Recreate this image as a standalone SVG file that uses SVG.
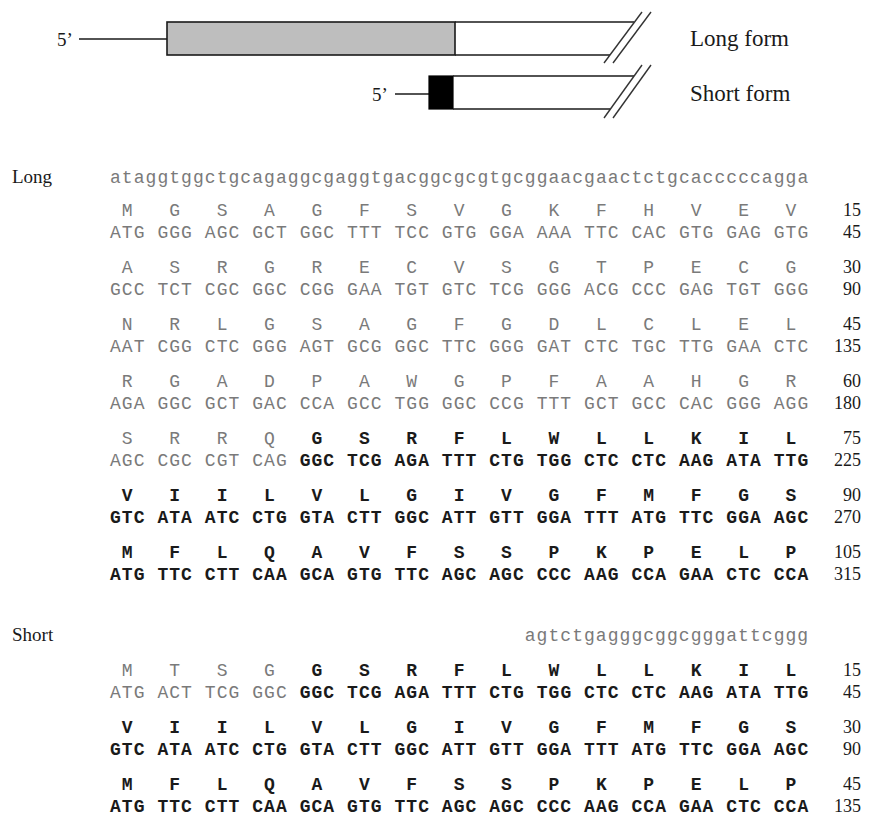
<svg xmlns="http://www.w3.org/2000/svg" width="878" height="816" viewBox="0 0 878 816">
<style>
.ser{font-family:"Liberation Serif","Times New Roman",serif;fill:#1a1a1a}
.lab{font-size:19px}
.big{font-size:23px}
.num{font-size:18px;text-anchor:end}
.mono{font-family:"Liberation Mono","Courier New",monospace;font-size:18px;letter-spacing:1.05px}
.g{fill:#7a7a7a}
.b{fill:#1a1a1a;font-weight:bold}
.ln{stroke:#1a1a1a;stroke-width:1.6;fill:none}
.sl{stroke:#333;stroke-width:1.4;fill:none}
</style>
<rect width="878" height="816" fill="#fff"/>

<g id="long-form">
  <text class="ser lab" x="57" y="46">5’</text>
  <line class="ln" x1="79" y1="39" x2="167" y2="39" stroke-width="2.2"/>
  <rect x="167" y="22" width="288" height="33" fill="#bebebe" stroke="#1a1a1a" stroke-width="1.6"/>
  <line class="ln" x1="455" y1="22" x2="634" y2="22"/>
  <line class="ln" x1="455" y1="55" x2="610" y2="55"/>
  <line class="sl" x1="604" y1="63" x2="642" y2="12"/>
  <line class="sl" x1="613" y1="63" x2="651" y2="12"/>
  <text class="ser big" x="690" y="46">Long form</text>
</g>

<g id="short-form">
  <text class="ser lab" x="372" y="101">5’</text>
  <line class="ln" x1="395" y1="94" x2="429" y2="94" stroke-width="2.2"/>
  <rect x="429" y="76" width="24" height="33" fill="#000" stroke="#000" stroke-width="1.2"/>
  <line class="ln" x1="453" y1="76" x2="634" y2="76"/>
  <line class="ln" x1="453" y1="109" x2="610" y2="109"/>
  <line class="sl" x1="604" y1="118" x2="642" y2="65"/>
  <line class="sl" x1="613" y1="118" x2="651" y2="65"/>
  <text class="ser big" x="690" y="101">Short form</text>
</g>

<g id="long-sequence">
  <text class="ser lab" x="12" y="183">Long</text>
  <text class="mono g" x="110" y="183">ataggtggctgcagaggcgaggtgacggcgcgtgcggaacgaactctgcacccccagga</text>

  <text class="mono g" x="110" y="216" xml:space="preserve"> M   G   S   A   G   F   S   V   G   K   F   H   V   E   V</text>
  <text class="mono g" x="110" y="238">ATG GGG AGC GCT GGC TTT TCC GTG GGA AAA TTC CAC GTG GAG GTG</text>
  <text class="ser num" x="861" y="216">15</text>
  <text class="ser num" x="861" y="238">45</text>

  <text class="mono g" x="110" y="273" xml:space="preserve"> A   S   R   G   R   E   C   V   S   G   T   P   E   C   G</text>
  <text class="mono g" x="110" y="295">GCC TCT CGC GGC CGG GAA TGT GTC TCG GGG ACG CCC GAG TGT GGG</text>
  <text class="ser num" x="861" y="273">30</text>
  <text class="ser num" x="861" y="295">90</text>

  <text class="mono g" x="110" y="330" xml:space="preserve"> N   R   L   G   S   A   G   F   G   D   L   C   L   E   L</text>
  <text class="mono g" x="110" y="352">AAT CGG CTC GGG AGT GCG GGC TTC GGG GAT CTC TGC TTG GAA CTC</text>
  <text class="ser num" x="861" y="330">45</text>
  <text class="ser num" x="861" y="352">135</text>

  <text class="mono g" x="110" y="387" xml:space="preserve"> R   G   A   D   P   A   W   G   P   F   A   A   H   G   R</text>
  <text class="mono g" x="110" y="409">AGA GGC GCT GAC CCA GCC TGG GGC CCG TTT GCT GCC CAC GGG AGG</text>
  <text class="ser num" x="861" y="387">60</text>
  <text class="ser num" x="861" y="409">180</text>

  <text class="mono" x="110" y="444" xml:space="preserve"><tspan class="g"> S   R   R   Q   </tspan><tspan class="b">G   S   R   F   L   W   L   L   K   I   L</tspan></text>
  <text class="mono" x="110" y="466" xml:space="preserve"><tspan class="g">AGC CGC CGT CAG </tspan><tspan class="b">GGC TCG AGA TTT CTG TGG CTC CTC AAG ATA TTG</tspan></text>
  <text class="ser num" x="861" y="444">75</text>
  <text class="ser num" x="861" y="466">225</text>

  <text class="mono b" x="110" y="501" xml:space="preserve"> V   I   I   L   V   L   G   I   V   G   F   M   F   G   S</text>
  <text class="mono b" x="110" y="523">GTC ATA ATC CTG GTA CTT GGC ATT GTT GGA TTT ATG TTC GGA AGC</text>
  <text class="ser num" x="861" y="501">90</text>
  <text class="ser num" x="861" y="523">270</text>

  <text class="mono b" x="110" y="558" xml:space="preserve"> M   F   L   Q   A   V   F   S   S   P   K   P   E   L   P</text>
  <text class="mono b" x="110" y="580">ATG TTC CTT CAA GCA GTG TTC AGC AGC CCC AAG CCA GAA CTC CCA</text>
  <text class="ser num" x="861" y="558">105</text>
  <text class="ser num" x="861" y="580">315</text>
</g>

<g id="short-sequence">
  <text class="ser lab" x="12" y="641">Short</text>
  <text class="mono g" x="524.75" y="641">agtctgagggcggcgggattcggg</text>

  <text class="mono" x="110" y="676" xml:space="preserve"><tspan class="g"> M   T   S   G   </tspan><tspan class="b">G   S   R   F   L   W   L   L   K   I   L</tspan></text>
  <text class="mono" x="110" y="698" xml:space="preserve"><tspan class="g">ATG ACT TCG GGC </tspan><tspan class="b">GGC TCG AGA TTT CTG TGG CTC CTC AAG ATA TTG</tspan></text>
  <text class="ser num" x="861" y="676">15</text>
  <text class="ser num" x="861" y="698">45</text>

  <text class="mono b" x="110" y="733" xml:space="preserve"> V   I   I   L   V   L   G   I   V   G   F   M   F   G   S</text>
  <text class="mono b" x="110" y="755">GTC ATA ATC CTG GTA CTT GGC ATT GTT GGA TTT ATG TTC GGA AGC</text>
  <text class="ser num" x="861" y="733">30</text>
  <text class="ser num" x="861" y="755">90</text>

  <text class="mono b" x="110" y="790" xml:space="preserve"> M   F   L   Q   A   V   F   S   S   P   K   P   E   L   P</text>
  <text class="mono b" x="110" y="812">ATG TTC CTT CAA GCA GTG TTC AGC AGC CCC AAG CCA GAA CTC CCA</text>
  <text class="ser num" x="861" y="790">45</text>
  <text class="ser num" x="861" y="812">135</text>
</g>
</svg>
